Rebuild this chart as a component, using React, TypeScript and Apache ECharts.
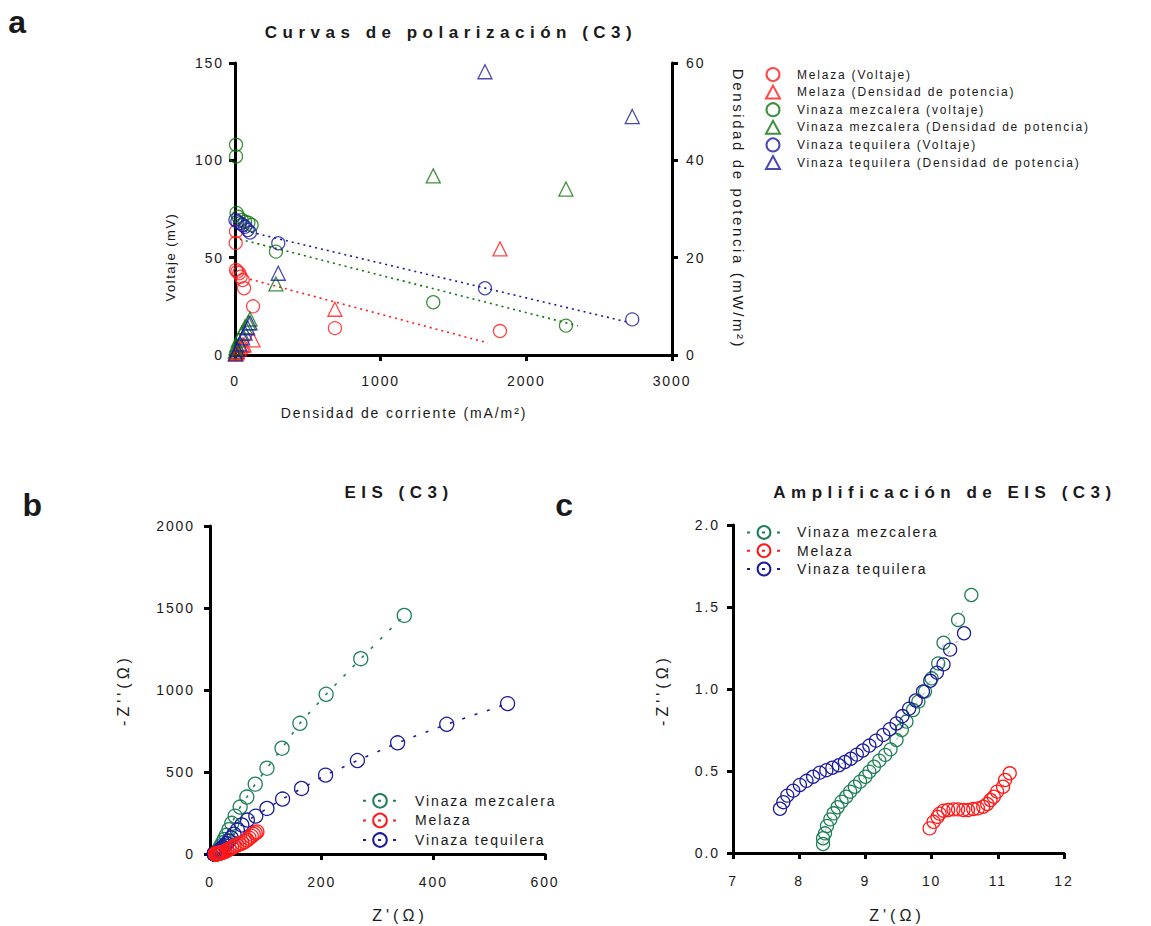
import React, { useEffect, useRef } from 'react';
import * as echarts from 'echarts';

const FONT = "'Liberation Sans', Arial, sans-serif";
const RED = '#ff1a1a';
const GREEN_A = '#0e740e';
const BLUE = '#1c1c9c';
const GREEN_B = '#1f8056';
const INK = '#1a1a1a';

// ---------- Panel a: polarization curves (x: mA/m², y: mV or mW/m²) ----------
const melazaV = [[7, 63.5], [5, 57.5], [7, 43.7], [16, 42.8], [29, 42], [39, 40.2], [53, 38.5], [62, 34.3], [124, 25], [686, 13.8], [1819, 12.3]];
const melazaP = [[3, 0.4], [7, 0.3], [12, 0.5], [16, 0.7], [29, 1.2], [39, 1.6], [53, 2.0], [62, 2.1], [124, 3.1], [686, 9.4], [1819, 21.8]];
const mezcalV = [[7, 108], [7, 102], [11, 73], [23, 71], [46, 69.4], [69, 68.5], [92, 68], [114, 66.8], [281, 53.1], [1361, 27.1], [2272, 15.1]];
const mezcalP = [[2, 0.8], [7, 1.5], [11, 2.1], [23, 3.1], [46, 4.5], [69, 5.8], [92, 6.6], [103, 7.4], [281, 14.6], [1361, 36.8], [2272, 34.1]];
const tequilV = [[3, 69.4], [16, 68.5], [34, 67.7], [53, 66.8], [69, 65.9], [87, 64.2], [103, 62.9], [297, 57.4], [1716, 34.3], [2727, 18.3]];
const tequilP = [[3, 0.2], [16, 1.1], [34, 2.3], [53, 3.5], [69, 4.5], [87, 5.6], [103, 6.6], [297, 16.8], [1716, 58.2], [2727, 49]];
const melazaFit = [[103, 38.9], [1736, 6.2]];
const mezcalFit = [[34, 59.5], [2354, 15]];
const tequilFit = [[69, 63.8], [2690, 17]];

const legendA = [
  'Melaza (Voltaje)',
  'Melaza (Densidad de potencia)',
  'Vinaza mezcalera (voltaje)',
  'Vinaza mezcalera (Densidad de potencia)',
  'Vinaza tequilera (Voltaje)',
  'Vinaza tequilera (Densidad de potencia)',
];

// ---------- Panel c: EIS zoom (Z' , -Z'' in Ω) ----------
const mezcalC = [[8.36, 0.055], [8.36, 0.09], [8.39, 0.12], [8.42, 0.165], [8.47, 0.205], [8.52, 0.242], [8.58, 0.279], [8.64, 0.313], [8.71, 0.343], [8.77, 0.374], [8.84, 0.404], [8.92, 0.435], [9.0, 0.465], [9.06, 0.496], [9.13, 0.526], [9.21, 0.563], [9.3, 0.598], [9.38, 0.632], [9.47, 0.689], [9.55, 0.75], [9.62, 0.801], [9.72, 0.872], [9.8, 0.923], [9.9, 0.984], [10.0, 1.065], [10.1, 1.156], [10.18, 1.282], [10.4, 1.421], [10.6, 1.573]];
const melazaC = [[9.97, 0.15], [10.03, 0.19], [10.09, 0.22], [10.12, 0.24], [10.18, 0.258], [10.25, 0.262], [10.33, 0.266], [10.4, 0.266], [10.48, 0.262], [10.55, 0.262], [10.63, 0.268], [10.7, 0.272], [10.78, 0.282], [10.84, 0.299], [10.89, 0.323], [10.94, 0.343], [10.99, 0.374], [11.08, 0.404], [11.11, 0.445], [11.18, 0.486]];
const tequilC = [[7.71, 0.27], [7.76, 0.31], [7.82, 0.35], [7.91, 0.38], [8.01, 0.415], [8.11, 0.44], [8.21, 0.465], [8.31, 0.49], [8.41, 0.505], [8.5, 0.52], [8.6, 0.535], [8.69, 0.555], [8.78, 0.575], [8.87, 0.6], [8.96, 0.625], [9.06, 0.655], [9.16, 0.685], [9.27, 0.72], [9.37, 0.755], [9.47, 0.79], [9.56, 0.835], [9.66, 0.88], [9.76, 0.93], [9.87, 0.985], [9.98, 1.05], [10.08, 1.1], [10.18, 1.15], [10.28, 1.24], [10.49, 1.34]];

// ---------- Panel b: full EIS (continues after the zoomed region) ----------
const mezcalB = [[10.9, 2.3], [11.3, 3.5], [11.8, 5.3], [12.5, 8], [13.3, 12], [14.4, 18], [15.8, 26], [17.6, 37], [19.8, 51], [22.5, 68], [25.6, 89], [29.3, 114], [34, 148], [39, 187], [45, 231], [54, 286], [66, 347], [81, 426], [102, 523], [129, 645], [161, 797], [208, 974], [270, 1191], [348, 1455]];
const melazaB = [[11.5, 0.75], [12, 1.1], [12.7, 1.6], [13.6, 2.2], [14.8, 3], [16.3, 4], [18.2, 5.5], [20.5, 8], [23.3, 11], [26.6, 15], [30.3, 22], [34.3, 30], [38.6, 38], [43, 46], [47.5, 54], [52, 60], [57, 67], [62, 76], [66, 86], [70, 97], [74, 108], [77.5, 119], [81, 128], [84, 135]];
const tequilB = [[10.8, 1.9], [11.2, 2.6], [11.7, 3.6], [12.3, 5], [13.1, 7], [14, 9.6], [15.2, 13], [16.6, 17.5], [18.3, 23], [20.4, 30], [23, 39], [26, 50], [29.5, 63], [33.5, 79], [38, 98], [43, 121], [49, 146], [57, 177], [67, 207], [82, 231], [102, 278], [130, 335], [164, 400], [207, 481], [264, 570], [336, 678], [424, 791], [533, 917]];

const legendBC = ['Vinaza mezcalera', 'Melaza', 'Vinaza tequilera'];

const css = `
#chart text { letter-spacing: 1.5px; }
#chart text[style*="12px"] { letter-spacing: 1.8px; }
#chart text[style*="14px"] { letter-spacing: 1.9px; }
#chart text[style*="15px"] { letter-spacing: 2.6px; }
#chart text[style*="16px"] { letter-spacing: 4px; }
#chart text[style*="17px"] { letter-spacing: 5.5px; }
`;

function valueAxis(extra: any) {
  return {
    type: 'value',
    axisLine: { show: true, onZero: false, lineStyle: { color: '#000', width: 3 } },
    axisTick: { show: true, length: 6, lineStyle: { color: '#000', width: 3 } },
    splitLine: { show: false },
    ...extra,
    axisLabel: {
      color: INK, fontSize: 14, fontFamily: FONT,
      formatter: (v: number) => String(v),
      ...(extra.axisLabel || {}),
    },
  };
}

function scatterA(name: string, data: number[][], color: string, symbol: string, yAxisIndex: number) {
  return {
    type: 'scatter', name, data, xAxisIndex: 0, yAxisIndex, symbol,
    symbolSize: symbol === 'circle' ? 13 : 14,
    itemStyle: { color: 'transparent', borderColor: color, borderWidth: 1.3 },
    clip: false, z: 3,
  };
}

function fitA(data: number[][], color: string) {
  return {
    type: 'line', data, xAxisIndex: 0, yAxisIndex: 0, symbol: 'none', silent: true,
    lineStyle: { color, width: 1.6, type: [2, 4] }, z: 2,
  };
}

function eisLine(name: string, data: number[][], color: string, gi: number, size: number, lw: number, op: number) {
  return {
    type: 'line', name, data, xAxisIndex: gi, yAxisIndex: gi + 1,
    symbol: 'circle', symbolSize: size, showSymbol: true,
    itemStyle: { color: 'transparent', borderColor: color, borderWidth: 1.3 },
    lineStyle: { color, width: lw, type: [3, 10], opacity: op },
    clip: false,
  };
}

function txt(x: number, y: number, text: string, fontSize: number, opts: any = {}) {
  return {
    type: 'text', x, y, rotation: opts.rotation || 0, silent: true,
    style: {
      text, fontSize, fontFamily: FONT, fontWeight: opts.bold ? 'bold' : 'normal', fill: INK,
      align: opts.align || 'center', verticalAlign: 'middle',
      textAlign: opts.align || 'center', textVerticalAlign: 'middle',
    },
  };
}

const option: any = {
  animation: false,
  backgroundColor: '#fff',
  grid: [
    { left: 235, top: 63, width: 437, height: 292 },
    { left: 210, top: 526, width: 335, height: 328 },
    { left: 733, top: 525, width: 331, height: 328 },
  ],
  xAxis: [
    valueAxis({ gridIndex: 0, min: 0, max: 3000, interval: 1000, axisLabel: { margin: 19 } }),
    valueAxis({ gridIndex: 1, min: 0, max: 600, interval: 200, axisLabel: { margin: 21 } }),
    valueAxis({ gridIndex: 2, min: 7, max: 12, interval: 1, axisLabel: { margin: 21 } }),
  ],
  yAxis: [
    valueAxis({ gridIndex: 0, min: 0, max: 150, interval: 50, position: 'left', axisLabel: { margin: 11 } }),
    valueAxis({ gridIndex: 0, min: 0, max: 60, interval: 20, position: 'right', axisLabel: { margin: 14 } }),
    valueAxis({ gridIndex: 1, min: 0, max: 2000, interval: 500, axisLabel: { margin: 15 } }),
    valueAxis({ gridIndex: 2, min: 0, max: 2, interval: 0.5, axisLabel: { margin: 13, formatter: (v: number) => v.toFixed(1) } }),
  ],
  legend: [
    {
      data: legendA, orient: 'vertical', left: 760, top: 62, itemWidth: 14, itemHeight: 13, itemGap: 2.6,
      selectedMode: false, textStyle: { fontSize: 12, fontFamily: FONT, color: INK, padding: [0, 0, 0, 12] },
    },
    {
      data: legendBC, orient: 'vertical', left: 357, top: 788, itemWidth: 34, itemHeight: 17, itemGap: 4,
      selectedMode: false, lineStyle: { type: [3, 12] },
      textStyle: { fontSize: 14, fontFamily: FONT, color: INK, padding: [0, 0, 0, 13] },
    },
    {
      data: legendBC, orient: 'vertical', left: 741, top: 520, itemWidth: 34, itemHeight: 16, itemGap: 3.5,
      selectedMode: false, lineStyle: { type: [3, 12] },
      textStyle: { fontSize: 14, fontFamily: FONT, color: INK, padding: [0, 0, 0, 11] },
    },
  ],
  series: [
    fitA(melazaFit, RED),
    fitA(mezcalFit, GREEN_A),
    fitA(tequilFit, BLUE),
    scatterA(legendA[0], melazaV, RED, 'circle', 0),
    scatterA(legendA[1], melazaP, RED, 'triangle', 1),
    scatterA(legendA[2], mezcalV, GREEN_A, 'circle', 0),
    scatterA(legendA[3], mezcalP, GREEN_A, 'triangle', 1),
    scatterA(legendA[4], tequilV, BLUE, 'circle', 0),
    scatterA(legendA[5], tequilP, BLUE, 'triangle', 1),
    eisLine('Vinaza mezcalera', [...mezcalC, ...mezcalB], GREEN_B, 1, 14, 1.6, 1),
    eisLine('Vinaza tequilera', [...tequilC, ...tequilB], BLUE, 1, 14, 1.6, 1),
    eisLine('Melaza', [...melazaC, ...melazaB], RED, 1, 14, 1.6, 1),
    eisLine('Vinaza mezcalera', mezcalC, GREEN_B, 2, 13, 1, 0.5),
    eisLine('Vinaza tequilera', tequilC, BLUE, 2, 13, 1, 0.5),
    eisLine('Melaza', melazaC, RED, 2, 13, 1, 0.5),
  ],
  graphic: [
    txt(18, 22, 'a', 32, { bold: true }),
    txt(33, 505, 'b', 32, { bold: true }),
    txt(565, 505, 'c', 32, { bold: true }),
    txt(451, 32, 'Curvas de polarización (C3)', 17, { bold: true }),
    txt(399, 492, 'EIS (C3)', 17, { bold: true }),
    txt(945, 492, 'Amplificación de EIS (C3)', 17, { bold: true }),
    txt(404, 413, 'Densidad de corriente (mA/m²)', 14),
    txt(170, 257, 'Voltaje (mV)', 13, { rotation: Math.PI / 2 }),
    txt(738, 209, 'Densidad de potencia (mW/m²)', 15, { rotation: -Math.PI / 2 }),
    txt(400, 915, "Z'(Ω)", 16),
    txt(123, 690, "-Z''(Ω)", 16, { rotation: Math.PI / 2 }),
    txt(897, 915, "Z'(Ω)", 16),
    txt(662, 690, "-Z''(Ω)", 16, { rotation: Math.PI / 2 }),
  ],
};

export default function App() {
  const ref = useRef<HTMLDivElement>(null);
  useEffect(() => {
    const chart = echarts.init(ref.current as HTMLDivElement, null, { renderer: 'svg' });
    chart.setOption(option);
    return () => chart.dispose();
  }, []);
  return (
    <>
      <style>{css}</style>
      <div
        id="chart"
        ref={ref}
        style={{ position: 'absolute', left: 0, top: 0, width: 1151, height: 926, background: '#fff' }}
      />
    </>
  );
}
